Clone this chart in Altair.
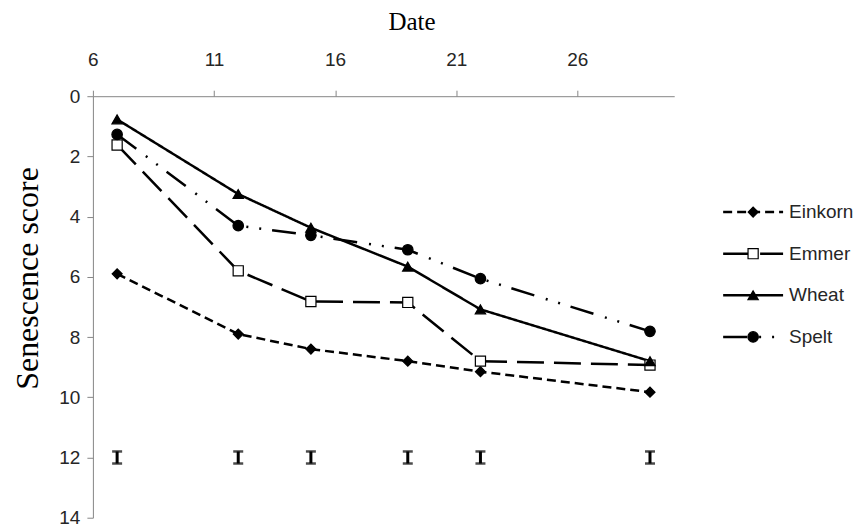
import altair as alt
import pandas as pd

# ---- data ----
dates = [7, 12, 15, 19, 22, 29]
series = ["Einkorn", "Emmer", "Wheat", "Spelt"]
einkorn = [5.9, 7.9, 8.4, 8.8, 9.15, 9.83]
emmer = [1.62, 5.8, 6.82, 6.85, 8.8, 8.93]
wheat = [0.77, 3.25, 4.37, 5.66, 7.08, 8.8]
spelt = [1.27, 4.3, 4.62, 5.1, 6.06, 7.81]
err_center = [12, 12, 12, 12, 12, 12]
err_half = [0.2, 0.2, 0.2, 0.2, 0.2, 0.2]
x_ticks = [6, 11, 16, 21, 26]
y_ticks = [0, 2, 4, 6, 8, 10, 12, 14]

values = {"Einkorn": einkorn, "Emmer": emmer, "Wheat": wheat, "Spelt": spelt}
rows = []
for s in series:
    for d, v in zip(dates, values[s]):
        rows.append({"date": d, "score": v, "series": s})
df = pd.DataFrame(rows)

err = pd.DataFrame({
    "date": dates,
    "lo": [c - h for c, h in zip(err_center, err_half)],
    "hi": [c + h for c, h in zip(err_center, err_half)],
})
leg = pd.DataFrame({"series": series})

LABEL_FONT = "Liberation Sans Narrow, Liberation Sans, sans-serif"
TITLE_FONT = "Liberation Serif"
AX = "#868686"
TXT = "#262626"

dash_scale = alt.Scale(domain=series, range=[[9, 5], [27, 10], [1, 0], [24, 12, 2, 11, 2, 11]])
shape_scale = alt.Scale(domain=series, range=["diamond", "square", "triangle-up", "circle"])
fill_scale = alt.Scale(domain=series, range=["black", "white", "black", "black"])
size_scale = alt.Scale(domain=series, range=[100, 110, 120, 130])

xs = alt.X("date:Q", scale=alt.Scale(domain=[6, 30], nice=False, zero=False),
           axis=alt.Axis(orient="top", values=x_ticks, title="Date", grid=False,
                         labelFont=LABEL_FONT, labelFontSize=19, labelColor=TXT,
                         titleFont=TITLE_FONT, titleFontSize=25, titleFontWeight="normal",
                         titleColor="#000", titlePadding=16, labelPadding=21,
                         titleX=319,
                         tickSize=6, domainColor=AX, tickColor=AX, labelFlush=False))
ys = alt.Y("score:Q", scale=alt.Scale(domain=[0, 14], reverse=True, nice=False),
           axis=alt.Axis(values=y_ticks, title="Senescence score", grid=False,
                         labelFont=LABEL_FONT, labelFontSize=19, labelColor=TXT,
                         titleFont=TITLE_FONT, titleFontSize=32, titleFontWeight="normal",
                         titleColor="#000", titlePadding=14, labelPadding=7,
                         titleY=182,
                         tickSize=6, domainColor=AX, tickColor=AX))

lines = alt.Chart(df).mark_line(color="black", strokeWidth=2.5).encode(
    x=xs, y=ys,
    detail="series:N",
    strokeDash=alt.StrokeDash("series:N", scale=dash_scale, legend=None),
)
points = alt.Chart(df).mark_point(stroke="black", strokeWidth=1.2, filled=False, opacity=1).encode(
    x="date:Q", y="score:Q",
    shape=alt.Shape("series:N", scale=shape_scale, legend=None),
    fill=alt.Fill("series:N", scale=fill_scale, legend=None),
    size=alt.Size("series:N", scale=size_scale, legend=None),
)
err_rule = alt.Chart(err).mark_rule(color="black", strokeWidth=3).encode(
    x="date:Q", y="lo:Q", y2="hi:Q")
cap_lo = alt.Chart(err).mark_tick(color="black", orient="horizontal", size=10, thickness=2.5).encode(
    x="date:Q", y="lo:Q")
cap_hi = alt.Chart(err).mark_tick(color="black", orient="horizontal", size=10, thickness=2.5).encode(
    x="date:Q", y="hi:Q")

main = alt.layer(lines, points, err_rule, cap_lo, cap_hi).properties(width=582, height=422)

ly = alt.Y("series:N", scale=alt.Scale(type="point", domain=series, range=[116, 241], padding=0),
           axis=None)
leg_line = alt.Chart(leg).mark_rule(color="black", strokeWidth=2.5).encode(
    x=alt.value(49), x2=alt.value(109), y=ly,
    strokeDash=alt.StrokeDash("series:N", scale=dash_scale, legend=None))
leg_pt = alt.Chart(leg).mark_point(stroke="black", strokeWidth=1.2, opacity=1).encode(
    x=alt.value(79), y=ly,
    shape=alt.Shape("series:N", scale=shape_scale, legend=None),
    fill=alt.Fill("series:N", scale=fill_scale, legend=None),
    size=alt.Size("series:N", scale=size_scale, legend=None))
leg_txt = alt.Chart(leg).mark_text(align="left", baseline="middle", font=LABEL_FONT,
                                   fontSize=19, color=TXT).encode(
    x=alt.value(115), y=ly, text="series:N")
legend = alt.layer(leg_line, leg_pt, leg_txt).properties(width=160, height=422)

chart = alt.hconcat(main, legend, spacing=0).properties(
    padding={"left": 3, "top": 1, "right": 0, "bottom": 0},
    background="white",
).resolve_scale(y="independent").configure_view(stroke=None)

chart.save("out.html", embed_options={"renderer": "svg", "actions": False})
